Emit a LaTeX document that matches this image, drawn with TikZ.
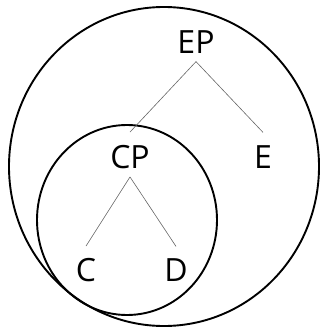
\documentclass[tikz,border=0pt]{standalone}
\usepackage{fontspec}
\setmainfont{Open Sans}
\begin{document}
\begin{tikzpicture}[x=1pt,y=-1pt]
    \tikzset{
        lbl/.style={inner sep=0pt,font=\fontsize{32}{36}\selectfont},
        branch/.style={draw=black!60,line width=0.6pt},
        ring/.style={line width=1.9pt}
    }
    \useasboundingbox (0,0) rectangle (321,332);

    % the two domains
    \draw[ring] (164,166.5) ellipse [x radius=155pt,y radius=159.5pt];
    \draw[ring] (127,220) ellipse [x radius=90pt,y radius=95pt];

    % labels
    \node[lbl] (ep) at (196,42) {EP};
    \node[lbl] (cp) at (130,157) {CP};
    \node[lbl] (e) at (263,157) {E};
    \node[lbl] (c) at (86,270) {C};
    \node[lbl] (d) at (176,270) {D};

    % branches
    \draw[branch] ([yshift=-8pt]ep.south) -- ([yshift=13pt]cp.north);
    \draw[branch] ([yshift=-8pt]ep.south) -- ([yshift=13pt]e.north);
    \draw[branch] ([yshift=-8pt]cp.south) -- ([yshift=12pt]c.north);
    \draw[branch] ([yshift=-8pt]cp.south) -- ([yshift=12pt]d.north);
\end{tikzpicture}
\end{document}
